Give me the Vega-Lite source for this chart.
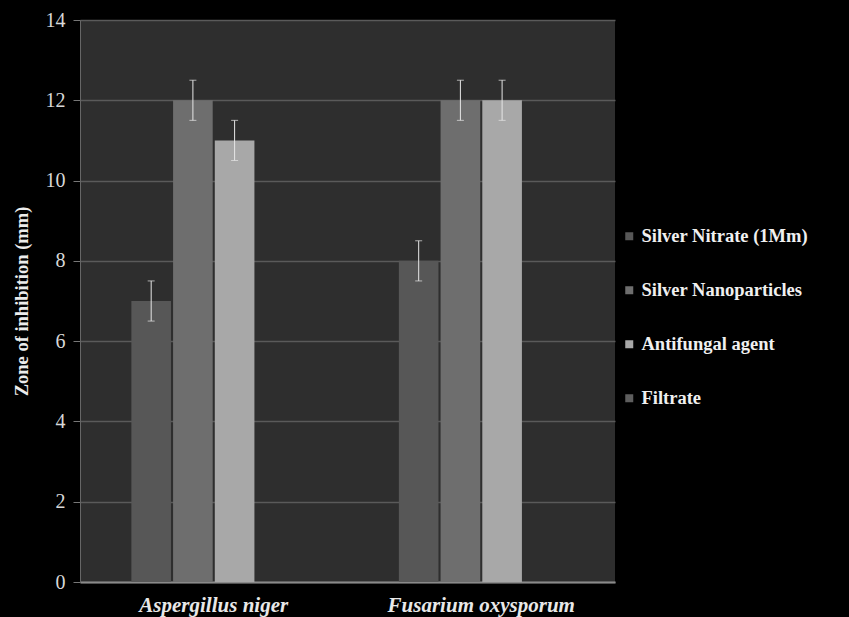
{
  "$schema": "https://vega.github.io/schema/vega-lite/v6.json",
  "autosize": {"type": "none"},
  "width": 535,
  "height": 562,
  "padding": {"left": 80, "top": 20, "right": 234, "bottom": 35},
  "background": "#000000",
  "config": {
    "view": {"fill": "#2e2e2e", "stroke": null},
    "font": "Liberation Serif"
  },
  "data": {
    "values": [
      {"organism": "Aspergillus niger", "series": "Silver Nitrate (1Mm)", "value": 7, "lo": 6.5, "hi": 7.5},
      {"organism": "Aspergillus niger", "series": "Silver Nanoparticles", "value": 12, "lo": 11.5, "hi": 12.5},
      {"organism": "Aspergillus niger", "series": "Antifungal agent", "value": 11, "lo": 10.5, "hi": 11.5},
      {"organism": "Aspergillus niger", "series": "Filtrate", "value": 0, "lo": null, "hi": null},
      {"organism": "Fusarium oxysporum", "series": "Silver Nitrate (1Mm)", "value": 8, "lo": 7.5, "hi": 8.5},
      {"organism": "Fusarium oxysporum", "series": "Silver Nanoparticles", "value": 12, "lo": 11.5, "hi": 12.5},
      {"organism": "Fusarium oxysporum", "series": "Antifungal agent", "value": 12, "lo": 11.5, "hi": 12.5},
      {"organism": "Fusarium oxysporum", "series": "Filtrate", "value": 0, "lo": null, "hi": null}
    ]
  },
  "encoding": {
    "x": {
      "field": "organism", "type": "nominal",
      "scale": {"paddingInner": 0.384, "paddingOuter": 0.192},
      "axis": {
        "title": null, "labelAngle": 0, "labelColor": "#e8e8e8", "labelFont": "Liberation Serif",
        "labelFontSize": 21, "labelFontWeight": "bold", "labelFontStyle": "italic", "labelLimit": 300,
        "labelPadding": 12, "ticks": false, "domainColor": "#8a8a8a", "domainWidth": 2
      }
    },
    "xOffset": {
      "field": "series", "type": "nominal",
      "sort": ["Silver Nitrate (1Mm)", "Silver Nanoparticles", "Antifungal agent", "Filtrate"],
      "scale": {"paddingInner": 0.05, "paddingOuter": 0}
    }
  },
  "layer": [
    {
      "mark": {"type": "bar"},
      "encoding": {
        "y": {
          "field": "value", "type": "quantitative",
          "scale": {"domain": [0, 14]},
          "axis": {
            "title": "Zone of inhibition (mm)", "titleColor": "#ececec", "titleFont": "Liberation Serif",
            "titleFontSize": 18.5, "titleFontWeight": "bold", "titlePadding": 14,
            "values": [0, 2, 4, 6, 8, 10, 12, 14],
            "labelColor": "#d8d8d8", "labelFont": "Liberation Serif", "labelFontSize": 20,
            "labelPadding": 8, "tickColor": "#777777", "tickSize": 7,
            "domainColor": "#666666", "gridColor": "#5a5a5a", "gridWidth": 1.5
          }
        },
        "color": {
          "field": "series", "type": "nominal",
          "sort": ["Silver Nitrate (1Mm)", "Silver Nanoparticles", "Antifungal agent", "Filtrate"],
          "scale": {
            "domain": ["Silver Nitrate (1Mm)", "Silver Nanoparticles", "Antifungal agent", "Filtrate"],
            "range": ["#575757", "#6e6e6e", "#a8a8a8", "#5e5e5e"]
          },
          "legend": {
            "title": null, "orient": "none", "legendX": 540, "legendY": 207,
            "symbolType": "square", "symbolSize": 64, "symbolStrokeWidth": 0,
            "labelColor": "#f0f0f0", "labelFont": "Liberation Serif", "labelFontSize": 18.5,
            "labelFontWeight": "bold", "rowPadding": 35, "labelOffset": 3, "labelLimit": 300
          }
        }
      }
    },
    {
      "mark": {"type": "rule", "color": "#e6e6e6", "strokeWidth": 1},
      "encoding": {
        "y": {"field": "lo", "type": "quantitative"},
        "y2": {"field": "hi"}
      }
    },
    {
      "mark": {"type": "tick", "color": "#e6e6e6", "thickness": 1, "size": 7},
      "encoding": {"y": {"field": "lo", "type": "quantitative"}}
    },
    {
      "mark": {"type": "tick", "color": "#e6e6e6", "thickness": 1, "size": 7},
      "encoding": {"y": {"field": "hi", "type": "quantitative"}}
    }
  ]
}
